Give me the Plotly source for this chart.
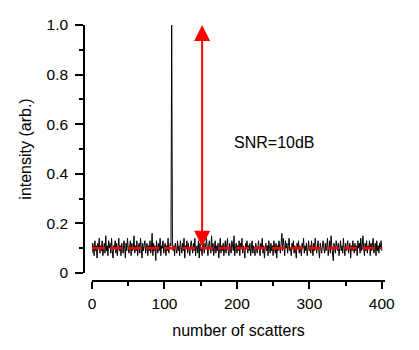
import plotly.graph_objects as go

# ---- data ----
intensity = [
    0.08,0.12,0.10,0.07,0.13,0.09,0.11,0.06,0.12,0.10,0.14,0.08,0.11,0.09,0.13,0.07,0.10,0.12,0.08,0.15,
    0.09,0.11,0.07,0.13,0.10,0.12,0.08,0.14,0.09,0.06,0.11,0.10,0.13,0.08,0.12,0.07,0.10,0.14,0.09,0.11,
    0.07,0.12,0.10,0.08,0.13,0.11,0.06,0.12,0.09,0.14,0.10,0.08,0.11,0.13,0.07,0.12,0.09,0.10,0.15,0.08,
    0.11,0.09,0.13,0.07,0.10,0.12,0.08,0.14,0.10,0.06,0.12,0.09,0.11,0.13,0.08,0.10,0.12,0.07,0.11,0.09,
    0.13,0.08,0.10,0.16,0.07,0.12,0.09,0.11,0.05,0.13,0.10,0.08,0.12,0.09,0.14,0.07,0.11,0.10,0.13,0.08,
    0.10,0.12,0.07,0.11,0.09,0.14,0.08,0.10,0.12,0.11,1.00,0.13,0.09,0.11,0.07,0.12,0.10,0.08,0.13,0.09,
    0.11,0.07,0.13,0.10,0.08,0.12,0.09,0.14,0.06,0.11,0.10,0.13,0.08,0.12,0.09,0.07,0.11,0.13,0.10,0.08,
    0.12,0.09,0.14,0.07,0.10,0.11,0.08,0.13,0.06,0.12,0.09,0.10,0.07,0.13,0.11,0.08,0.12,0.10,0.14,0.09,
    0.07,0.11,0.13,0.10,0.08,0.15,0.09,0.12,0.07,0.10,0.13,0.08,0.11,0.09,0.12,0.06,0.10,0.14,0.08,0.11,
    0.09,0.12,0.07,0.10,0.13,0.08,0.11,0.14,0.09,0.07,0.12,0.10,0.08,0.13,0.11,0.09,0.15,0.07,0.10,0.12,
    0.08,0.11,0.09,0.13,0.07,0.12,0.10,0.14,0.08,0.11,0.09,0.06,0.12,0.10,0.13,0.08,0.11,0.09,0.12,0.07,
    0.10,0.13,0.08,0.11,0.09,0.07,0.12,0.10,0.08,0.11,0.13,0.09,0.07,0.12,0.10,0.14,0.08,0.11,0.06,0.10,
    0.12,0.09,0.11,0.07,0.13,0.10,0.08,0.12,0.09,0.11,0.07,0.13,0.10,0.08,0.12,0.06,0.11,0.09,0.13,0.10,
    0.08,0.12,0.16,0.09,0.14,0.11,0.07,0.13,0.10,0.12,0.08,0.11,0.14,0.09,0.10,0.07,0.12,0.10,0.13,0.08,
    0.11,0.09,0.06,0.12,0.10,0.13,0.08,0.11,0.09,0.07,0.12,0.10,0.14,0.08,0.11,0.09,0.12,0.07,0.10,0.13,
    0.09,0.11,0.08,0.13,0.10,0.07,0.12,0.09,0.14,0.11,0.08,0.10,0.13,0.09,0.06,0.12,0.10,0.08,0.11,0.13,
    0.10,0.08,0.12,0.09,0.11,0.14,0.07,0.10,0.13,0.08,0.15,0.11,0.09,0.05,0.12,0.10,0.08,0.13,0.11,0.09,
    0.12,0.07,0.10,0.13,0.09,0.11,0.08,0.14,0.10,0.07,0.12,0.09,0.11,0.13,0.08,0.10,0.12,0.06,0.11,0.09,
    0.13,0.10,0.08,0.12,0.09,0.11,0.07,0.13,0.10,0.12,0.08,0.14,0.09,0.11,0.15,0.10,0.07,0.12,0.09,0.13,
    0.08,0.11,0.10,0.13,0.07,0.12,0.09,0.11,0.14,0.08,0.10,0.12,0.07,0.13,0.09,0.11,0.08,0.12,0.10,0.13,
    0.09,
]
scatters = list(range(len(intensity)))

noise_level = 0.10
noise_x = [0, 400]
peak_level = 1.0
arrow_x = 152

y_tickvals = [0, 0.2, 0.4, 0.6, 0.8, 1.0]
y_ticktext = ["0", "0.2", "0.4", "0.6", "0.8", "1.0"]
x_tickvals = [0, 100, 200, 300, 400]
x_ticktext = ["0", "100", "200", "300", "400"]

FONT = "Liberation Sans, Arial, Helvetica, sans-serif"

fig = go.Figure()
fig.add_trace(go.Scatter(
    x=scatters, y=intensity, mode="lines",
    line=dict(color="black", width=1), showlegend=False, hoverinfo="skip",
))
fig.add_trace(go.Scatter(
    x=noise_x, y=[noise_level, noise_level], mode="lines",
    line=dict(color="#ff0000", width=2.5, dash="13px,5px"), showlegend=False,
))

fig.add_annotation(
    x=arrow_x, y=peak_level, ax=arrow_x, ay=noise_level,
    xref="x", yref="y", axref="x", ayref="y",
    text="", showarrow=True, arrowside="end+start",
    arrowhead=2, arrowsize=1.6, arrowwidth=2, arrowcolor="#ff0000",
    standoff=0, startstandoff=0,
)
fig.add_annotation(
    x=193, y=0.525, xref="x", yref="y", xanchor="left", yanchor="middle",
    text="SNR=10dB", showarrow=False,
    font=dict(family=FONT, size=16, color="black"),
)

fig.update_layout(
    width=419, height=350,
    margin=dict(l=84, r=34, t=25, b=69),
    plot_bgcolor="white", paper_bgcolor="white",
    font=dict(family=FONT, size=16, color="black"),
    xaxis=dict(
        domain=[8 / 301, 1], range=[0, 404.4],
        anchor="free", position=0,
        showline=True, linecolor="black", linewidth=1.5,
        showgrid=False, zeroline=False,
        tickmode="array", tickvals=x_tickvals, ticktext=x_ticktext,
        ticks="outside", ticklen=7, tickwidth=1.5, tickcolor="black",
        ticklabelstandoff=2,
        minor=dict(dtick=50, tick0=0, ticks="outside", ticklen=4, tickwidth=1.5,
                   tickcolor="black", showgrid=False),
        title=dict(text="number of scatters", font=dict(size=16), standoff=12),
        tickfont=dict(size=15.5),
    ),
    yaxis=dict(
        domain=[8 / 256, 1], range=[0, 1.0],
        anchor="free", position=0,
        showline=True, linecolor="black", linewidth=1.5,
        showgrid=False, zeroline=False,
        tickmode="array", tickvals=y_tickvals, ticktext=y_ticktext,
        ticks="outside", ticklen=8, tickwidth=1.5, tickcolor="black",
        ticklabelstandoff=4,
        minor=dict(dtick=0.1, tick0=0, ticks="outside", ticklen=4, tickwidth=1.5,
                   tickcolor="black", showgrid=False),
        title=dict(text="intensity (arb.)", font=dict(size=16), standoff=10),
        tickfont=dict(size=15.5),
    ),
)

fig.write_html("out.html")
